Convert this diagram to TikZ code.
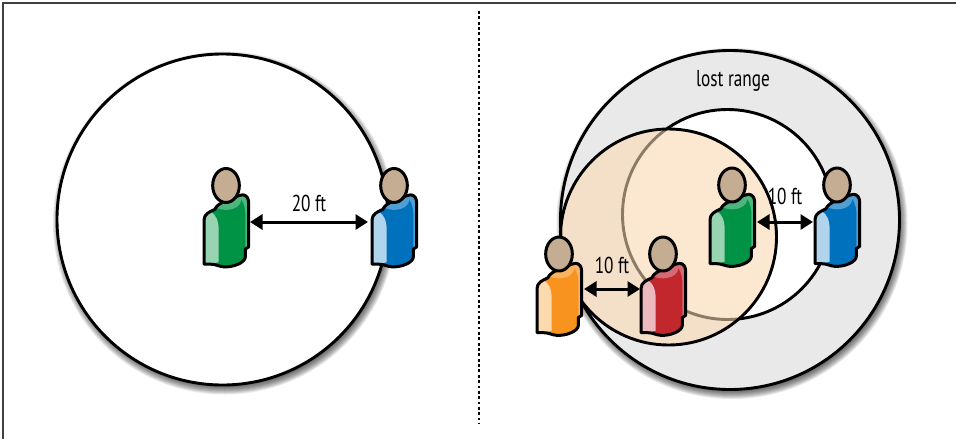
\documentclass[tikz,border=0pt]{standalone}
\usepackage{fontspec}
\setmainfont[FakeStretch=0.75]{PT Sans}
\usetikzlibrary{arrows.meta}
\definecolor{peach}{HTML}{FBD9B5}
\definecolor{rim}{HTML}{E9E9EA}
\definecolor{skin}{HTML}{C4AD92}
\definecolor{seen}{HTML}{8C7B66}
\definecolor{gA}{HTML}{009245}\definecolor{gB}{HTML}{98D4B1}\definecolor{gC}{HTML}{4DB57D}
\definecolor{bA}{HTML}{0071BC}\definecolor{bB}{HTML}{B0D4EC}\definecolor{bC}{HTML}{4F9FD4}
\definecolor{oA}{HTML}{F7931E}\definecolor{oB}{HTML}{FDD9AE}\definecolor{oC}{HTML}{FAB360}
\definecolor{rA}{HTML}{C1272D}\definecolor{rB}{HTML}{ECB9BF}\definecolor{rC}{HTML}{D66A72}
\tikzset{
  ring/.style={draw=black,line width=2.9pt},
  span/.style={line width=3pt,{Triangle[length=12.5pt,width=15pt]}-{Triangle[length=12.5pt,width=15pt]}},
  lbl/.style={font=\fontsize{23}{26}\selectfont,inner sep=0pt},
  outline/.style={draw=black,line width=3pt,line join=round},
}
% soft shadow falling below and to the right
\newcommand\softshadow[3]{%
  \foreach \d in {6,5,...,-2}{%
    \fill[black,opacity=.085] (#1+2,#2+3.5) circle[radius=#3+\d];}}
% person: head centre x,y, name, body, arm, band colours
\newcommand\person[6]{%
  \begin{scope}[shift={(#1,#2)},x=.3333pt,y=-.3333pt,shift={(-92,-76)}]
    \def\bodypath{(26,180) .. controls (26,162) and (42,155) .. (58,148)
      .. controls (64,136) and (75,128) .. (92,123)
      .. controls (110,120) and (125,104) .. (142,104)
      .. controls (153,104) and (160,114) .. (160,128)
      -- (160,260) -- (150,267) -- (150,290)
      .. controls (150,308) and (112,322) .. (85,320)
      .. controls (70,319) and (62,312) .. (45,312)
      -- (26,312) -- cycle}
    \begin{scope}
      \clip \bodypath;
      \fill[#4] (0,90) rectangle (170,330);
      \fill[#6] (125,100) .. controls (140,118) and (150,135) .. (150,160) -- (150,272) -- (170,272) -- (170,100) -- cycle;
      \fill[#6] (92,119) ellipse[x radius=46,y radius=30];
      \fill[#5] (20,150) -- (48,156) .. controls (62,164) and (70,182) .. (70,210) -- (70,306) -- (20,318) -- cycle;
    \end{scope}
    \draw[outline] \bodypath;
    \draw[outline,fill=skin] (92,76) ellipse[x radius=40,y radius=51];
    \coordinate (#3) at (92,76);
  \end{scope}}
\begin{document}
\begin{tikzpicture}[x=1pt,y=-1pt]
\useasboundingbox (0,0) rectangle (956,439);
\fill[white] (0,0) rectangle (956,439);
% frame and divider
\draw[black!75,line width=1.6pt] (3,439) -- (3,3) -- (956,3);
\draw[black,line width=2.8pt,dash pattern=on 2.8pt off 2.55pt] (479,11) -- (479,424);
% left panel
\softshadow{222.5}{219.5}{165.5}
\fill[white] (222.5,219.5) circle[radius=165.5];
\draw[ring] (222.5,219.5) circle[radius=165.5];
% right panel
\softshadow{730}{220}{169.5}
\fill[rim] (730,220) circle[radius=169.5];
\draw[ring] (730,220) circle[radius=169.5];
\fill[white] (727.5,214.5) circle[radius=105];
\draw[ring] (727.5,214.5) circle[radius=105];
\begin{scope}
  \clip (668.5,237) circle[radius=108];
  \fill[white] (668.5,237) circle[radius=108];
  \fill[rim] (730,220) circle[radius=169.5];
  \draw[ring] (730,220) circle[radius=169.5];
  \fill[white] (727.5,214.5) circle[radius=105];
  \fill[peach,opacity=.62] (668.5,237) circle[radius=108];
  \draw[seen,line width=2.9pt] (727.5,214.5) circle[radius=105];
\end{scope}
\draw[ring] (668.5,237) circle[radius=108];
% people
\person{226}{185.5}{pA}{gA}{gB}{gC}
\person{394}{185.5}{pB}{bA}{bB}{bC}
\person{732}{185}{pC}{gA}{gB}{gC}
\person{837}{185}{pD}{bA}{bB}{bC}
\person{559}{254}{pE}{oA}{oB}{oC}
\person{663}{254}{pF}{rA}{rB}{rC}
% spans between people
\coordinate (a1) at ([shift={(24,36.5)}]pA);
\coordinate (a2) at ([shift={(-26,36.5)}]pB);
\draw[span] (a1) -- (a2) node[midway,lbl,above=9pt] (t1) {20 ft};
\coordinate (b1) at ([shift={(25,37)}]pC);
\coordinate (b2) at ([shift={(-24,37)}]pD);
\draw[span] (b1) -- (b2) node[midway,lbl,above=15.5pt] (t2) {10 ft};
\coordinate (c1) at ([shift={(25,35)}]pE);
\coordinate (c2) at ([shift={(-23,35)}]pF);
\draw[span] (c1) -- (c2) node[midway,lbl,above=14pt] (t3) {10 ft};
\node[lbl] (t4) at (733,81) {lost range};
\end{tikzpicture}
\end{document}
